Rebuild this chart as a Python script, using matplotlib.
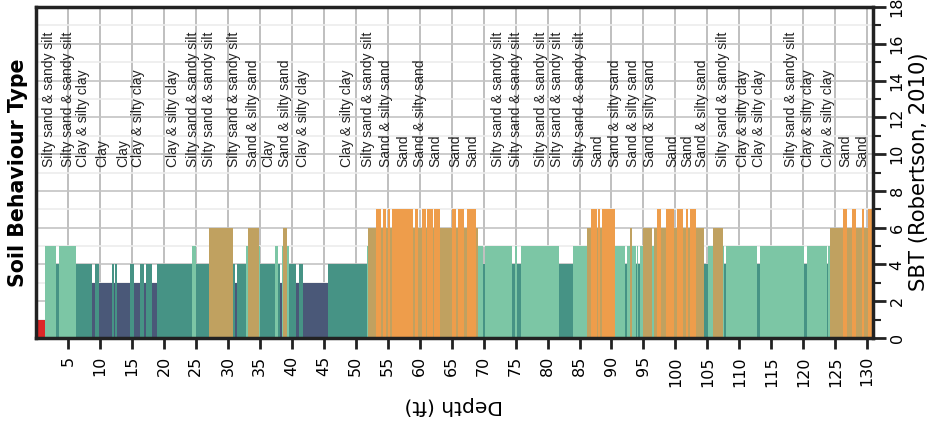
import numpy as np
import matplotlib
matplotlib.use('Agg')
import matplotlib.pyplot as plt
from matplotlib import font_manager
from matplotlib.ticker import MultipleLocator

# SBT zone per depth interval (interval starts at seg_top, ends at the next one)
seg_top = [0.1, 1.35, 3.07, 3.54, 6.2, 8.7, 9.17, 9.79, 11.82, 12.13, 12.29, 12.6,
           14.63, 15.26, 16.2, 16.82, 17.13, 18.07, 18.85, 24.32, 24.95, 27.13,
           30.88, 31.2, 31.5, 32.77, 33.08, 34.8, 35.1, 37.3, 37.9, 38.2, 38.4,
           38.7, 39.3, 39.6, 40.7, 41.2, 41.8, 45.6, 51.7, 52.0, 53.1, 54.0,
           54.2, 54.8, 55.0, 55.4, 55.6, 59.0, 59.2, 59.8, 60.4, 61.0, 61.2,
           62.1, 62.3, 63.2, 65.1, 65.73, 66.05, 66.98, 67.45, 68.86, 69.17,
           69.95, 70.26, 74.48, 74.95, 75.26, 75.89, 81.83, 84.01, 86.2, 86.8,
           87.8, 87.9, 88.2, 88.5, 90.6, 92.1, 92.5, 92.9, 93.2, 93.9, 94.0,
           94.2, 94.5, 94.9, 96.4, 96.7, 97.1, 97.8, 98.5, 99.8, 100.3, 101.2,
           101.7, 102.0, 102.3, 103.2, 104.5, 105.1, 105.9, 107.4, 107.6, 107.9,
           112.8, 113.2, 120.1, 120.6, 123.7, 123.9, 124.2, 126.2, 126.8, 127.6,
           128.2, 129.2, 129.5, 130.1]
seg_end = 130.7
sbt = [1, 5, 4, 5, 4, 3, 4, 3, 4, 3, 4, 3,
       4, 3, 4, 3, 4, 3, 4, 5, 4, 6,
       4, 3, 4, 5, 6, 5, 4, 5, 4, 3, 5,
       6, 5, 4, 3, 4, 3, 4, 5, 6, 7, 6,
       7, 6, 7, 6, 7, 6, 7, 6, 7, 6, 7,
       6, 7, 6, 7, 6, 7, 6, 7, 6, 5,
       4, 5, 4, 5, 4, 5, 4, 5, 6, 7,
       6, 7, 6, 7, 5, 4, 5, 6, 5, 4, 5,
       4, 5, 6, 5, 6, 7, 6, 7, 6, 7, 6,
       7, 6, 7, 6, 4, 5, 6, 5, 4, 5,
       4, 5, 4, 5, 4, 5, 6, 7, 6, 7,
       6, 7, 6, 7]

zone_colors = {1: '#dc2828', 2: '#8c6d4f', 3: '#4a5878', 4: '#469385',
               5: '#7cc6a5', 6: '#c0a160', 7: '#ee9d4b'}

# text annotations along the profile
label_depth = [2.0, 4.95, 7.3, 10.4, 13.7, 16.0, 21.5, 24.5, 27.0, 30.9, 33.9,
               36.4, 39.0, 41.7, 48.7, 52.0, 54.8, 57.5, 60.1, 62.5, 65.6, 68.2,
               72.3, 75.0, 78.9, 81.5, 85.1, 87.8, 90.6, 93.4, 96.0, 99.5, 101.8,
               104.2, 107.5, 110.6, 113.0, 118.0, 120.8, 123.9, 126.6, 129.2]
label_text = ['Silty sand & sandy silt', 'Silty sand & sandy silt', 'Clay & silty clay',
              'Clay', 'Clay', 'Clay & silty clay', 'Clay & silty clay',
              'Silty sand & sandy silt', 'Silty sand & sandy silt', 'Silty sand & sandy silt',
              'Sand & silty sand', 'Clay', 'Sand & silty sand', 'Clay & silty clay',
              'Clay & silty clay', 'Silty sand & sandy silt', 'Sand & silty sand', 'Sand',
              'Sand & silty sand', 'Sand', 'Sand', 'Sand',
              'Silty sand & sandy silt', 'Silty sand & sandy silt', 'Silty sand & sandy silt',
              'Silty sand & sandy silt', 'Silty sand & sandy silt', 'Sand',
              'Sand & silty sand', 'Sand & silty sand', 'Sand & silty sand', 'Sand', 'Sand',
              'Sand & silty sand', 'Silty sand & sandy silt', 'Clay & silty clay',
              'Clay & silty clay', 'Silty sand & sandy silt', 'Clay & silty clay',
              'Clay & silty clay', 'Sand', 'Sand']

names = {f.name for f in font_manager.fontManager.ttflist}
if 'Liberation Sans Narrow' in names:
    lab_family, lab_size = 'Liberation Sans Narrow', 12
else:
    lab_family, lab_size = 'Liberation Sans', 10

fig = plt.figure(figsize=(9.3, 4.24), dpi=100)
ax = fig.add_axes([36 / 930, 1 - 338 / 424, (873 - 36) / 930, (338 - 7) / 424])

edges = np.array(seg_top + [seg_end])
widths = np.diff(edges)
ax.bar(seg_top, sbt, width=widths, align='edge',
       color=[zone_colors[z] for z in sbt], linewidth=0, zorder=2)

for d, t in zip(label_depth, label_text):
    ax.text(d, 9.3, t, rotation=90, ha='center', va='bottom',
            family=lab_family, fontsize=lab_size, color='#222222', zorder=3)

ax.set_xlim(0, 130.9)
ax.set_ylim(0, 18)
ax.set_xticks(np.arange(5, 131, 5))
ax.yaxis.set_major_locator(MultipleLocator(2))
ax.yaxis.set_minor_locator(MultipleLocator(1))
ax.yaxis.tick_right()

ax.set_axisbelow(True)
ax.xaxis.grid(True, which='major', color='#b4b4b4', lw=1.2, zorder=0)
ax.yaxis.grid(True, which='major', color='#c4c4c4', lw=1.2, zorder=0)
ax.yaxis.grid(True, which='minor', color='#ececec', lw=1.2, zorder=0)

for s in ax.spines.values():
    s.set_linewidth(2.5)
    s.set_color('#222222')

ax.tick_params(axis='x', direction='out', length=8, width=2, labelsize=11.5,
               pad=5, labelrotation=90, color='#222222')
ax.tick_params(axis='y', which='major', direction='out', length=9, width=2,
               labelsize=11.5, pad=3, labelrotation=90, color='#222222')
ax.tick_params(axis='y', which='minor', direction='out', length=6, width=1.5,
               color='#222222')
for lab in ax.get_yticklabels():
    lab.set_va('center')

fig.text(18 / 930, 1 - 173 / 424, 'Soil Behaviour Type', rotation=90,
         ha='center', va='center', fontsize=14.8, fontweight='bold')
fig.text(919 / 930, 1 - 172 / 424, 'SBT (Robertson, 2010)', rotation=90,
         ha='center', va='center', fontsize=15.2)
fig.text(454 / 930, 1 - 406 / 424, 'Depth (ft)', rotation=180,
         ha='center', va='center', fontsize=14.5)

fig.savefig('out.png', dpi=100)
